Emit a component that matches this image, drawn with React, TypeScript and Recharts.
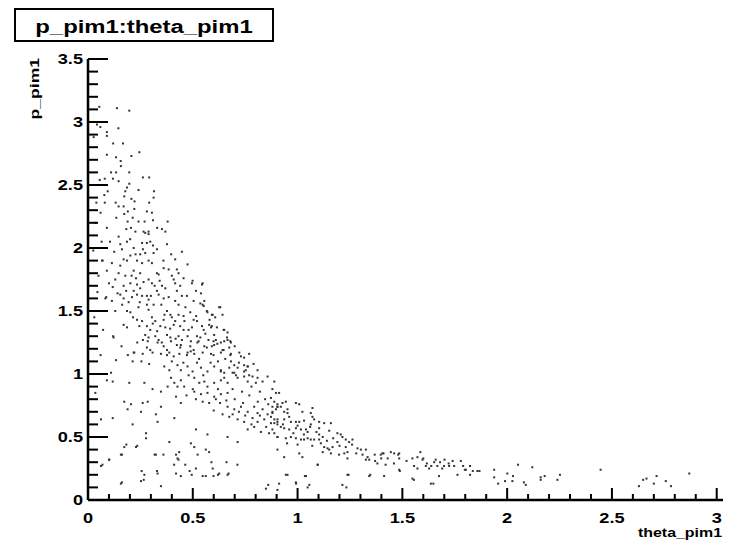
import { ScatterChart, Scatter, XAxis, YAxis } from "recharts";

// tick positions (minor every 0.1, labelled every 0.5)
const thetaTicks = [0, 0.1, 0.2, 0.3, 0.4, 0.5, 0.6, 0.7, 0.8, 0.9, 1, 1.1, 1.2, 1.3, 1.4, 1.5, 1.6, 1.7, 1.8, 1.9, 2, 2.1, 2.2, 2.3, 2.4, 2.5, 2.6, 2.7, 2.8, 2.9, 3];
const pTicks = [0, 0.1, 0.2, 0.3, 0.4, 0.5, 0.6, 0.7, 0.8, 0.9, 1, 1.1, 1.2, 1.3, 1.4, 1.5, 1.6, 1.7, 1.8, 1.9, 2, 2.1, 2.2, 2.3, 2.4, 2.5, 2.6, 2.7, 2.8, 2.9, 3, 3.1, 3.2, 3.3, 3.4, 3.5];
const thetaLabels = ["0", "0.5", "1", "1.5", "2", "2.5", "3"];
const pLabels = ["0", "0.5", "1", "1.5", "2", "2.5", "3", "3.5"];

// [theta_pim1, p_pim1]
const forwardCone = [
  [0.054, 3.12], [0.138, 3.11], [0.197, 3.09], [0.059, 2.96], [0.043, 2.98], [0.145, 2.95], [0.09, 2.92], [0.09, 2.89],
  [0.027, 2.88], [0.12, 2.83], [0.167, 2.83], [0.245, 2.76], [0.09, 2.74], [0.134, 2.72], [0.207, 2.73], [0.156, 2.69],
  [0.157, 2.65], [0.11, 2.6], [0.134, 2.6], [0.197, 2.6], [0.262, 2.56], [0.292, 2.56], [0.056, 2.54], [0.08, 2.55],
  [0.119, 2.55], [0.146, 2.53], [0.197, 2.51], [0.186, 2.48], [0.094, 2.45], [0.241, 2.46], [0.178, 2.45], [0.315, 2.45],
  [0.078, 2.42], [0.173, 2.41], [0.313, 2.4], [0.207, 2.39], [0.222, 2.37], [0.04, 2.36], [0.08, 2.36], [0.132, 2.36],
  [0.292, 2.36], [0.146, 2.33], [0.17, 2.33], [0.221, 2.31], [0.19, 2.29], [0.281, 2.29], [0.305, 2.28], [0.173, 2.27],
  [0.135, 2.24], [0.213, 2.24], [0.189, 2.21], [0.241, 2.21], [0.27, 2.21], [0.31, 2.22], [0.38, 2.21], [0.09, 2.16],
  [0.183, 2.15], [0.226, 2.13], [0.33, 2.16], [0.353, 2.15], [0.369, 2.13], [0.265, 2.13], [0.289, 2.13], [0.205, 2.16],
  [0.035, 2.2], [0.06, 2.28], [0.025, 1.98], [0.065, 2.05], [0.045, 1.65], [0.072, 1.35], [0.06, 1.15], [0.09, 0.95],
  [0.035, 0.85],
];

const peakRidge = [
  [0.146, 2.09], [0.273, 2.12], [0.289, 2.11], [0.186, 2.05], [0.258, 2.04], [0.281, 2.04], [0.297, 2.05], [0.377, 2.03],
  [0.154, 2.03], [0.218, 2.0], [0.329, 1.99], [0.313, 1.96], [0.448, 1.97], [0.249, 1.95], [0.273, 1.96], [0.202, 1.94],
  [0.17, 1.91], [0.186, 1.9], [0.234, 1.9], [0.258, 1.88], [0.289, 1.9], [0.305, 1.88], [0.114, 1.88], [0.416, 1.91],
  [0.154, 1.86], [0.067, 1.9], [0.361, 1.84], [0.385, 1.83], [0.424, 1.83], [0.432, 1.8], [0.218, 1.82], [0.249, 1.8],
  [0.329, 1.8], [0.337, 1.79], [0.146, 1.8], [0.178, 1.78], [0.09, 1.82], [0.4, 1.78], [0.409, 1.75], [0.416, 1.72],
  [0.289, 1.75], [0.305, 1.72], [0.456, 1.76], [0.202, 1.72], [0.13, 1.75], [0.234, 1.71], [0.249, 1.68], [0.353, 1.7],
  [0.369, 1.68], [0.496, 1.72], [0.544, 1.71], [0.17, 1.7], [0.083, 1.6], [0.154, 1.63], [0.17, 1.6], [0.218, 1.66],
  [0.234, 1.63], [0.258, 1.62], [0.281, 1.62], [0.289, 1.59], [0.329, 1.66], [0.337, 1.63], [0.424, 1.66], [0.448, 1.62],
  [0.472, 1.62], [0.361, 1.6], [0.114, 1.58], [0.194, 1.57], [0.416, 1.58], [0.432, 1.55], [0.504, 1.58], [0.536, 1.56],
  [0.552, 1.54], [0.281, 1.55], [0.289, 1.51], [0.313, 1.55], [0.241, 1.53], [0.186, 1.5], [0.202, 1.49], [0.13, 1.5],
  [0.377, 1.5], [0.393, 1.47], [0.432, 1.47], [0.456, 1.46], [0.488, 1.49], [0.567, 1.5], [0.591, 1.47], [0.631, 1.53],
  [0.234, 1.43], [0.258, 1.42], [0.305, 1.45], [0.321, 1.42], [0.361, 1.43], [0.4, 1.45], [0.416, 1.42], [0.504, 1.43],
  [0.52, 1.42], [0.607, 1.45], [0.17, 1.39], [0.186, 1.37], [0.281, 1.38], [0.297, 1.35], [0.345, 1.38], [0.369, 1.37],
  [0.409, 1.39], [0.44, 1.38], [0.456, 1.35], [0.48, 1.35], [0.496, 1.37], [0.544, 1.38], [0.552, 1.35], [0.591, 1.38],
  [0.615, 1.37], [0.647, 1.35], [0.122, 1.29], [0.273, 1.31], [0.289, 1.29], [0.321, 1.3], [0.337, 1.27], [0.377, 1.31],
  [0.393, 1.29], [0.432, 1.3], [0.448, 1.27], [0.52, 1.3], [0.536, 1.29], [0.528, 1.26], [0.575, 1.27], [0.599, 1.26],
  [0.663, 1.29], [0.679, 1.26], [0.281, 1.21], [0.297, 1.19], [0.361, 1.22], [0.377, 1.19], [0.424, 1.23], [0.44, 1.21],
  [0.488, 1.22], [0.504, 1.19], [0.567, 1.21], [0.591, 1.22], [0.647, 1.19], [0.377, 1.15], [0.409, 1.14], [0.472, 1.15],
  [0.599, 1.15], [0.679, 1.15], [0.218, 1.17], [0.07, 1.9], [0.087, 1.61], [0.12, 1.3], [0.05, 1.78], [0.03, 1.45],
];

const denseCore = [
  [0.105, 2.05], [0.125, 1.97], [0.162, 1.99], [0.201, 2.07], [0.227, 1.95], [0.262, 1.99], [0.31, 2.02], [0.118, 1.69],
  [0.141, 1.64], [0.182, 1.66], [0.208, 1.78], [0.229, 1.76], [0.265, 1.73], [0.318, 1.7], [0.342, 1.74], [0.36, 1.9],
  [0.397, 1.95], [0.1, 1.72], [0.163, 1.55], [0.21, 1.61], [0.247, 1.57], [0.3, 1.62], [0.35, 1.55], [0.385, 1.61],
  [0.44, 1.7], [0.465, 1.53], [0.215, 1.45], [0.245, 1.38], [0.262, 1.27], [0.309, 1.4], [0.33, 1.34], [0.352, 1.25],
  [0.365, 1.47], [0.392, 1.36], [0.418, 1.28], [0.46, 1.42], [0.475, 1.3], [0.49, 1.18], [0.516, 1.46], [0.53, 1.12],
  [0.56, 1.32], [0.58, 1.43], [0.617, 1.24], [0.62, 1.1], [0.655, 1.12], [0.7, 1.22], [0.235, 1.25], [0.16, 1.22],
  [0.19, 1.15], [0.255, 1.1], [0.455, 1.09], [0.48, 0.99], [0.52, 1.09], [0.55, 0.99], [0.585, 1.09], [0.62, 0.88],
  [0.65, 0.97], [0.69, 0.88], [0.72, 1.09], [0.735, 0.86], [0.78, 0.9], [0.79, 1.08], [0.82, 0.86], [0.845, 0.8],
  [0.7, 0.8], [0.74, 0.77], [0.77, 0.83], [0.81, 0.78], [0.86, 0.76], [0.63, 0.77], [0.66, 0.79], [0.69, 0.68],
  [0.72, 0.7], [0.75, 0.67], [0.78, 0.6], [0.82, 0.67], [0.85, 0.58], [0.88, 0.56], [0.6, 0.71], [0.5, 0.88],
  [0.47, 0.83], [0.42, 0.82], [0.38, 0.9], [0.4, 1.1], [0.93, 0.6], [0.96, 0.66], [0.98, 0.53], [1.0, 0.59],
  [1.03, 0.52], [1.06, 0.58], [1.09, 0.54], [1.12, 0.5], [1.14, 0.47], [1.17, 0.49], [1.2, 0.43], [1.26, 0.44],
  [1.28, 0.37], [1.31, 0.36], [0.95, 0.45], [1.0, 0.44], [1.07, 0.43], [1.12, 0.38], [1.37, 0.31], [1.43, 0.33],
  [1.46, 0.29], [1.52, 0.31], [1.6, 0.33], [1.69, 0.25], [1.74, 0.31], [1.79, 0.27],
];

const shoulder = [
  [0.809, 0.97], [0.857, 0.98], [0.762, 1.06], [0.745, 1.07], [0.753, 1.03], [0.682, 1.1], [0.698, 1.07], [0.714, 1.05],
  [0.626, 1.53], [0.642, 1.47], [0.666, 1.27], [0.682, 1.25], [0.674, 1.21], [0.634, 1.25], [0.642, 1.19], [0.602, 1.31],
  [0.61, 1.27], [0.578, 1.39], [0.587, 1.37], [0.547, 1.72], [0.555, 1.58], [0.547, 1.55], [0.539, 1.64], [0.515, 1.66],
  [0.499, 1.74], [0.475, 1.87], [0.57, 1.49], [0.595, 1.47], [0.65, 1.35], [0.666, 1.33], [0.73, 1.14], [0.745, 1.13],
  [0.769, 0.99], [0.785, 0.98], [0.69, 1.01], [0.706, 0.99], [0.634, 1.03], [0.65, 1.01],
];

const midRange = [
  [0.285, 1.26], [0.332, 1.25], [0.396, 1.26], [0.443, 1.23], [0.491, 1.26], [0.522, 1.25], [0.555, 1.22], [0.602, 1.23],
  [0.65, 1.26], [0.221, 1.17], [0.261, 1.16], [0.308, 1.17], [0.348, 1.16], [0.388, 1.17], [0.436, 1.16], [0.475, 1.17],
  [0.507, 1.16], [0.547, 1.17], [0.587, 1.16], [0.634, 1.17], [0.682, 1.16], [0.722, 1.17], [0.769, 1.16], [0.134, 1.11],
  [0.213, 1.1], [0.292, 1.08], [0.364, 1.06], [0.388, 1.03], [0.427, 1.07], [0.443, 1.03], [0.475, 1.06], [0.499, 1.02],
  [0.539, 1.05], [0.57, 1.02], [0.602, 1.06], [0.634, 1.02], [0.674, 1.05], [0.698, 1.01], [0.745, 1.02], [0.762, 1.06],
  [0.809, 1.03], [0.11, 1.01], [0.118, 0.94], [0.197, 0.93], [0.269, 0.93], [0.308, 0.88], [0.348, 0.86], [0.396, 0.97],
  [0.412, 0.93], [0.443, 0.95], [0.427, 0.9], [0.459, 0.9], [0.507, 0.97], [0.531, 0.93], [0.555, 0.94], [0.57, 0.9],
  [0.602, 0.93], [0.634, 0.95], [0.666, 0.93], [0.714, 0.97], [0.745, 0.98], [0.762, 0.94], [0.801, 0.93], [0.833, 0.94],
  [0.507, 0.86], [0.539, 0.84], [0.57, 0.85], [0.602, 0.82], [0.634, 0.84], [0.666, 0.85], [0.515, 0.8], [0.547, 0.78],
  [0.578, 0.77], [0.61, 0.8], [0.173, 0.78], [0.205, 0.76], [0.261, 0.77], [0.285, 0.78], [0.348, 0.74], [0.443, 0.77],
  [0.253, 0.7], [0.324, 0.68], [0.189, 0.72], [0.666, 0.74], [0.698, 0.72], [0.73, 0.74], [0.762, 0.7], [0.793, 0.74],
  [0.809, 0.69], [0.833, 0.72], [0.857, 0.68], [0.88, 0.7], [0.904, 0.74], [0.642, 0.68], [0.674, 0.66], [0.714, 0.64],
  [0.745, 0.62], [0.785, 0.65], [0.809, 0.62], [0.841, 0.64], [0.873, 0.61], [0.904, 0.64], [0.062, 0.64], [0.118, 0.65],
  [0.213, 0.6], [0.332, 0.62], [0.412, 0.65], [0.762, 0.56], [0.793, 0.58], [0.825, 0.54], [0.864, 0.53], [0.904, 0.5],
  [0.515, 0.56], [0.57, 0.52], [0.277, 0.53], [0.277, 0.49], [0.714, 0.46], [0.173, 0.42], [0.229, 0.42], [0.388, 0.46],
  [0.491, 0.45], [0.507, 0.42], [0.435, 0.38], [0.102, 0.32], [0.157, 0.36], [0.324, 0.36], [0.42, 0.36], [0.427, 0.33],
  [0.523, 0.36], [0.062, 0.27], [0.269, 0.2], [0.332, 0.21], [0.42, 0.21], [0.443, 0.19], [0.515, 0.25], [0.547, 0.19],
  [0.562, 0.19], [0.595, 0.25], [0.626, 0.21], [0.666, 0.2], [0.157, 0.13], [0.253, 0.15], [0.348, 0.11], [0.849, 0.09],
  [0.912, 0.13], [0.666, 0.5], [0.562, 0.4], [0.578, 0.38], [0.904, 0.4],
];

const falloff = [
  [0.889, 0.94], [0.88, 0.88], [0.897, 0.85], [0.912, 0.85], [0.873, 0.81], [0.889, 0.78], [0.904, 0.76], [0.88, 0.74],
  [0.897, 0.72], [0.928, 0.77], [0.992, 0.77], [1.008, 0.76], [0.952, 0.72], [0.952, 0.69], [1.023, 0.7], [1.071, 0.73],
  [0.873, 0.66], [0.889, 0.64], [0.904, 0.62], [0.936, 0.64], [0.968, 0.62], [0.992, 0.62], [1.008, 0.62], [1.031, 0.63],
  [1.079, 0.64], [1.103, 0.62], [1.127, 0.61], [0.92, 0.58], [0.936, 0.57], [0.96, 0.56], [0.992, 0.57], [1.016, 0.56],
  [1.04, 0.56], [1.048, 0.54], [1.103, 0.57], [1.103, 0.52], [1.151, 0.55], [1.19, 0.53], [1.206, 0.52], [0.889, 0.53],
  [0.904, 0.5], [0.944, 0.49], [0.968, 0.5], [0.992, 0.49], [1.016, 0.48], [1.031, 0.48], [1.048, 0.49], [1.063, 0.48],
  [1.079, 0.48], [1.103, 0.48], [1.111, 0.45], [1.127, 0.42], [1.143, 0.41], [1.167, 0.42], [1.214, 0.5], [1.23, 0.48],
  [1.246, 0.46], [1.262, 0.48], [1.23, 0.42], [1.238, 0.38], [1.286, 0.41], [1.302, 0.4], [1.326, 0.4], [1.198, 0.36],
  [1.238, 0.33], [1.334, 0.34], [1.342, 0.32], [1.397, 0.36], [1.405, 0.37], [1.445, 0.38], [1.485, 0.37], [1.485, 0.33],
  [1.381, 0.29], [1.485, 0.24], [1.413, 0.19], [1.342, 0.19], [1.238, 0.2], [1.095, 0.28], [0.944, 0.2], [1.04, 0.19],
  [0.904, 0.08], [0.992, 0.14], [1.048, 0.1], [1.214, 0.12], [0.904, 0.74], [0.92, 0.74], [0.936, 0.7], [0.944, 0.78],
  [0.88, 0.69], [0.889, 0.61], [0.904, 0.6], [1.063, 0.69], [1.071, 0.66], [1.159, 0.61], [1.063, 0.6], [0.936, 0.34],
  [1.008, 0.37], [1.023, 0.34], [1.19, 0.46], [1.151, 0.4], [1.159, 0.37],
];

const wideAngleTail = [
  [0.183, 0.44], [0.235, 0.43], [0.162, 0.36], [0.1, 0.32], [0.069, 0.28], [0.162, 0.14], [0.266, 0.16], [0.256, 0.23],
  [0.329, 0.23], [0.318, 0.36], [0.36, 0.36], [0.432, 0.32], [0.411, 0.28], [0.464, 0.28], [0.485, 0.23], [0.495, 0.2],
  [0.589, 0.3], [0.599, 0.19], [0.62, 0.2], [0.661, 0.3], [0.671, 0.21], [0.713, 0.28], [0.86, 0.12], [0.952, 0.2],
  [0.993, 0.13], [1.056, 0.12], [1.035, 0.19], [1.097, 0.28], [1.233, 0.1], [1.243, 0.2], [1.223, 0.37], [1.347, 0.2],
  [1.326, 0.32], [1.368, 0.36], [1.41, 0.37], [1.399, 0.33], [1.461, 0.37], [1.48, 0.36], [1.42, 0.28], [1.488, 0.23],
  [1.555, 0.16], [1.586, 0.38], [1.596, 0.32], [1.617, 0.29], [1.638, 0.27], [1.648, 0.13], [1.659, 0.32], [1.68, 0.3],
  [1.701, 0.32], [1.721, 0.29], [1.548, 0.33], [1.572, 0.34], [1.556, 0.27], [1.572, 0.25], [1.612, 0.27], [1.628, 0.25],
  [1.652, 0.3], [1.667, 0.27], [1.699, 0.27], [1.723, 0.27], [1.747, 0.27], [1.548, 0.17], [1.636, 0.13], [1.675, 0.19],
  [1.763, 0.2], [1.803, 0.24], [1.779, 0.31], [1.798, 0.24], [1.823, 0.27], [1.823, 0.2], [1.836, 0.23], [1.858, 0.23],
  [1.868, 0.23], [1.938, 0.24], [1.938, 0.18], [1.957, 0.13], [1.99, 0.15], [2.001, 0.21], [2.025, 0.15], [2.028, 0.19],
  [2.052, 0.28], [2.08, 0.14], [2.089, 0.12], [2.12, 0.26], [2.16, 0.18], [2.16, 0.16], [2.179, 0.19], [2.24, 0.16],
  [2.252, 0.2], [2.446, 0.24], [2.629, 0.11], [2.649, 0.16], [2.665, 0.17], [2.7, 0.13], [2.713, 0.19], [2.757, 0.15],
  [2.782, 0.11], [2.869, 0.21],
];

const events = [...forwardCone, ...peakRidge, ...denseCore, ...shoulder, ...midRange, ...falloff, ...wideAngleTail].map(
  ([theta, p]) => ({ theta, p })
);

const FONT = "'Liberation Sans', Arial, Helvetica, sans-serif";

function isMajor(v: number) {
  return Math.abs(v * 2 - Math.round(v * 2)) < 1e-6;
}

function fmt(v: number, labels: string[]) {
  return labels[Math.round(v * 2)];
}

function ThetaTick(props: any) {
  const { x, y, payload } = props;
  const major = isMajor(payload.value);
  return (
    <g>
      <line x1={x} x2={x} y1={y} y2={y - (major ? 12 : 6)} stroke="#000" strokeWidth={2} />
      {major && (
        <text transform={`translate(${x},${y + 23}) scale(1.3,1)`} textAnchor="middle" fontFamily={FONT} fontWeight="bold" fontSize={14} fill="#000">
          {fmt(payload.value, thetaLabels)}
        </text>
      )}
    </g>
  );
}

function PTick(props: any) {
  const { x, y, payload } = props;
  const major = isMajor(payload.value);
  return (
    <g>
      <line x1={x} x2={x + (major ? 20 : 10)} y1={y} y2={y} stroke="#000" strokeWidth={2} />
      {major && (
        <text transform={`translate(${x - 5},${y + 5}) scale(1.3,1)`} textAnchor="end" fontFamily={FONT} fontWeight="bold" fontSize={14} fill="#000">
          {fmt(payload.value, pLabels)}
        </text>
      )}
    </g>
  );
}

function Dot(props: any) {
  const { cx, cy } = props;
  return <rect x={cx - 1} y={cy - 1} width={2} height={2} fill="#333" />;
}

export default function App() {
  return (
    <div style={{ position: "relative", width: 745, height: 549, background: "#fff" }}>
      <style>{"body{margin:0}"}</style>
      <ScatterChart width={745} height={549} margin={{ top: 59, right: 22, bottom: 0, left: 0 }}>
        <XAxis
          type="number"
          dataKey="theta"
          domain={[0, 3.03]}
          ticks={thetaTicks}
          interval={0}
          tickSize={0}
          tickMargin={0}
          tick={<ThetaTick />}
          height={49}
          axisLine={{ stroke: "#000", strokeWidth: 2.5 }}
          allowDataOverflow
        />
        <XAxis xAxisId="frameTop" orientation="top" type="number" domain={[0, 3.03]} height={0} tick={false} tickLine={false} axisLine={{ stroke: "#000", strokeWidth: 2 }} />
        <YAxis
          type="number"
          dataKey="p"
          domain={[0, 3.5]}
          ticks={pTicks}
          interval={0}
          tickSize={0}
          tickMargin={0}
          tick={<PTick />}
          width={88}
          axisLine={{ stroke: "#000", strokeWidth: 2.5 }}
          allowDataOverflow
        />
        <YAxis yAxisId="frameRight" orientation="right" type="number" domain={[0, 3.5]} width={0} tick={false} tickLine={false} axisLine={{ stroke: "#000", strokeWidth: 1.5 }} />
        <Scatter data={events} shape={<Dot />} isAnimationActive={false} />
      </ScatterChart>
      <svg width={745} height={549} style={{ position: "absolute", left: 0, top: 0, pointerEvents: "none" }}>
        <rect x={15} y={9} width={258} height={32} fill="#fff" stroke="#000" strokeWidth={2} />
        <text transform="translate(144,33) scale(1.29,1)" textAnchor="middle" fontFamily={FONT} fontWeight="bold" fontSize={18.5} fill="#000">
          p_pim1:theta_pim1
        </text>
        <text transform="translate(39,58) rotate(-90) scale(1.3,1)" textAnchor="end" fontFamily={FONT} fontWeight="bold" fontSize={13.5} fill="#000">
          p_pim1
        </text>
        <text transform="translate(722,537) scale(1.18,1)" textAnchor="end" fontFamily={FONT} fontWeight="bold" fontSize={13.5} fill="#000">
          theta_pim1
        </text>
      </svg>
    </div>
  );
}
